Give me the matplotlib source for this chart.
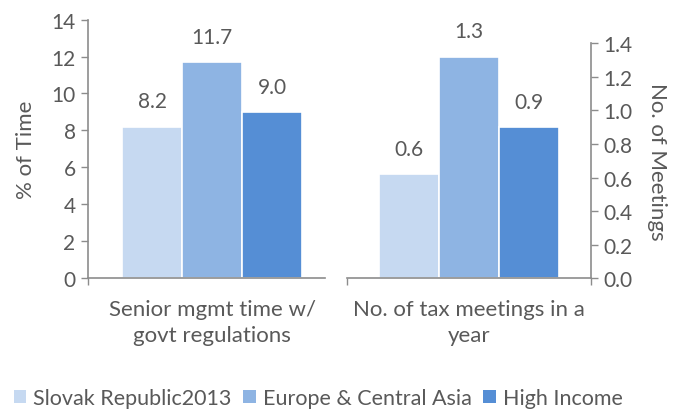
import matplotlib
matplotlib.use("Agg")
import matplotlib.pyplot as plt
from matplotlib.patches import Patch

plt.rcParams['font.family'] = ['Lato', 'DejaVu Sans']

# data
series = ["Slovak Republic2013", "Europe & Central Asia", "High Income"]
colors = ["#C6D9F1", "#8EB4E3", "#558ED5"]
time_cat = "Senior mgmt time w/\ngovt regulations"
time_vals = [8.2, 11.7, 9.0]
meet_cat = "No. of tax meetings in a\nyear"
meet_vals = [0.62, 1.32, 0.9]

W, H = 680, 414
TXT = "#595959"
AX = "#8C8C8C"
FS = 16      # category labels, axis titles
FS_T = 15    # tick and value labels


def px(x0, y_top, x1, y_bot):
    # figure-fraction rect from pixel box
    return [x0 / W, 1 - y_bot / H, (x1 - x0) / W, (y_bot - y_top) / H]


def draw_group(ax, vals, cat, xlim, side):
    offs = [-0.24, 0, 0.24]
    for o, v, c in zip(offs, vals, colors):
        ax.bar(o, v, width=0.24, color=c, edgecolor="white", linewidth=1.2)
        ax.annotate(f"{v:.1f}", (o, v), xytext=(0, 11), textcoords="offset points",
                    ha="center", va="bottom", fontsize=FS_T, color=TXT)
    ax.set_xlim(*xlim)
    ax.set_xticks([0])
    ax.set_xticklabels([cat], linespacing=1.38)
    ax.tick_params(axis="x", which="major", length=0, pad=15, labelsize=FS, labelcolor=TXT)
    if side == "left":
        ax.set_xticks([xlim[0]], minor=True)
    else:
        ax.set_xticks([xlim[0], xlim[1]], minor=True)
    ax.tick_params(axis="x", which="minor", length=5, width=1, color=AX, direction="out")
    ax.tick_params(axis="y", length=5, width=1, color=AX, direction="out",
                   labelsize=FS_T, labelcolor=TXT, pad=4)
    for s in ax.spines.values():
        s.set_color(AX)
        s.set_linewidth(1.2)
    ax.spines["top"].set_visible(False)
    if side == "left":
        ax.spines["right"].set_visible(False)
    else:
        ax.spines["left"].set_visible(False)
        ax.yaxis.tick_right()
        ax.yaxis.set_label_position("right")


fig = plt.figure(figsize=(6.8, 4.14), dpi=100)

ax1 = fig.add_axes(px(88, 20.7, 325, 278.7))
draw_group(ax1, time_vals, time_cat, (-0.496, 0.452), "left")
ax1.set_ylim(0, 14)
ax1.set_yticks(range(0, 15, 2))
ax1.set_ylabel("% of Time", fontsize=FS, color=TXT, labelpad=11)

ax2 = fig.add_axes(px(347, 44.3, 591, 279.3))
draw_group(ax2, meet_vals, meet_cat, (-0.488, 0.488), "right")
ax2.set_ylim(0, 1.4)
ax2.set_yticks([i / 10 for i in range(0, 15, 2)])
ax2.set_yticklabels([f"{i / 10:.1f}" for i in range(0, 15, 2)])
ax2.set_ylabel("No. of Meetings", fontsize=FS, color=TXT, rotation=270,
               labelpad=25)

handles = [Patch(facecolor=c, edgecolor="none") for c in colors]
fig.legend(handles, series, loc="center", bbox_to_anchor=(318 / W, 1 - 399 / H),
           ncol=3, frameon=False, fontsize=15.5, labelcolor=TXT,
           handlelength=0.6, handleheight=0.6, handletextpad=0.3,
           columnspacing=0.55, borderpad=0)

fig.savefig("out.png", dpi=100)
